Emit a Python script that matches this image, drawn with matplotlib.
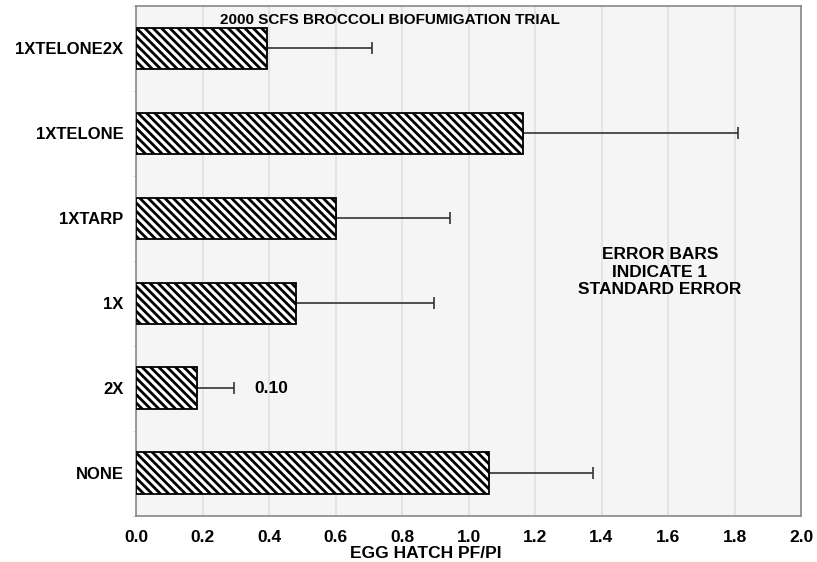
import matplotlib
matplotlib.use("Agg")
import matplotlib.pyplot as plt
import numpy as np

plt.rcParams['font.family'] = ['Liberation Sans', 'DejaVu Sans']
plt.rcParams['font.weight'] = 'bold'
plt.rcParams['hatch.linewidth'] = 2.0

categories = ["NONE", "2X", "1X", "1XTARP", "1XTELONE", "1XTELONE2X"]
means = [1.062, 0.182, 0.48, 0.60, 1.165, 0.393]
std_err = [0.313, 0.114, 0.416, 0.344, 0.645, 0.316]
x_ticks = [0.0, 0.2, 0.4, 0.6, 0.8, 1.0, 1.2, 1.4, 1.6, 1.8, 2.0]

FS = 12.5

fig = plt.figure(figsize=(8.17, 5.62), dpi=100)
ax = fig.add_axes([136/817, 1-515.7/562, (801-136)/817, (515.7-6)/562])
ax.set_facecolor('#f5f5f5')

y = np.arange(len(categories))
ax.barh(y, means, height=0.49, color='white', edgecolor='black', hatch='\\\\\\\\', linewidth=1.3, zorder=3)
ax.errorbar(means, y, xerr=[np.zeros(len(means)), std_err], fmt='none', ecolor='#333333',
            elinewidth=1.2, capsize=4, capthick=1.2, zorder=2)

ax.set_xlim(0, 2.0)
ax.set_ylim(-0.5, 5.5)
ax.set_xticks(x_ticks)
ax.set_xticklabels([f"{v:.1f}" for v in x_ticks], fontsize=FS, fontweight='bold')
ax.set_yticks(y)
ax.set_yticklabels(categories, fontsize=12, fontweight='bold')
ax.set_yticks(np.arange(-0.5, 5.6, 1.0), minor=True)
ax.tick_params(axis='y', which='major', length=0, pad=9)
ax.tick_params(axis='y', which='minor', length=3, color='#dddddd')
ax.tick_params(axis='x', length=0, pad=10)
ax.grid(axis='x', color='#e3e3e3', linewidth=1.5, zorder=0)
ax.set_axisbelow(True)
for s in ax.spines.values():
    s.set_color('#888888')
    s.set_linewidth(1.2)

ax.text(0.763, 5.33, "2000 SCFS BROCCOLI BIOFUMIGATION TRIAL", ha='center', va='center',
        fontsize=11, fontweight='bold')
ax.text(0.357, 1.0, "0.10", ha='left', va='center', fontsize=FS, fontweight='bold')
ax.text(1.575, 2.365, "ERROR BARS\nINDICATE 1\nSTANDARD ERROR", ha='center', va='center',
        fontsize=FS, fontweight='bold', linespacing=1.2)
fig.text(426/817, 1-553/562, "EGG HATCH PF/PI", ha='center', va='center', fontsize=FS, fontweight='bold')

fig.savefig("out.png", dpi=100)
